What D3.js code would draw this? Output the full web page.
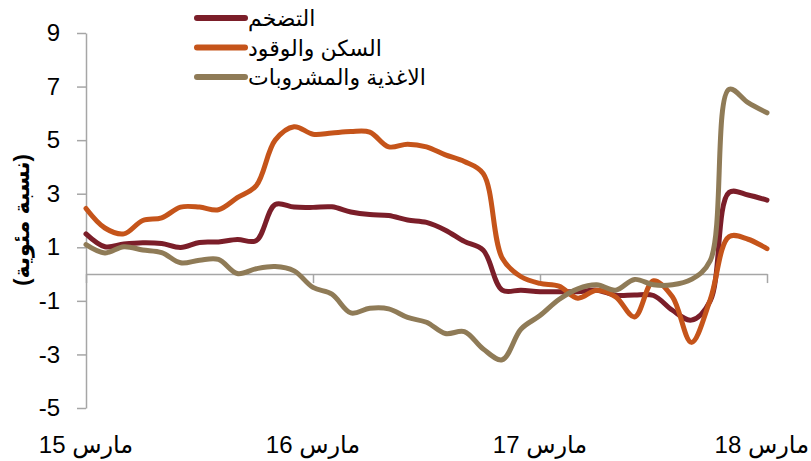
<!DOCTYPE html>
<html>
<head>
<meta charset="utf-8">
<script src="https://cdn.jsdelivr.net/npm/d3@7"></script>
<style>
  body { margin: 0; background: #fff; }
  svg { display: block; font-family: "Liberation Sans", "DejaVu Sans", sans-serif; }
  .axis path, .axis line { stroke: #a6a6a6; stroke-width: 1.5; }
  .axis text { fill: #000; font-size: 24px; }
</style>
</head>
<body>
<div id="master"></div>
<script>
// monthly index, 0 = March 2015 ... 36 = March 2018
let months = d3.range(0, 37)
let tickIdx = [0, 12, 24, 36]
let tickLabels = ["مارس 15", "مارس 16", "مارس 17", "مارس 18"]
let yTicks = [-5, -3, -1, 1, 3, 5, 7, 9]

let inflation = [1.5, 1.02, 1.12, 1.17, 1.14, 0.99, 1.18, 1.2, 1.29, 1.25, 2.6, 2.5, 2.49,
  2.51, 2.32, 2.22, 2.19, 2.02, 1.93, 1.64, 1.22, 0.89, -0.6, -0.6, -0.66,
  -0.66, -0.66, -0.6, -0.79, -0.78, -0.8, -1.35, -1.72, -1.0, 3.05, 2.95, 2.76]
let housing = [2.45, 1.72, 1.5, 2.0, 2.1, 2.5, 2.5, 2.4, 2.85, 3.3, 5.0, 5.5, 5.22,
  5.27, 5.32, 5.3, 4.75, 4.85, 4.75, 4.45, 4.2, 3.75, 0.6, -0.1, -0.35,
  -0.45, -0.9, -0.6, -0.85, -1.6, -0.25, -0.85, -2.55, -0.95, 1.4, 1.3, 0.95]
let food = [1.1, 0.79, 1.02, 0.9, 0.8, 0.42, 0.52, 0.55, 0.02, 0.2, 0.28, 0.12, -0.5,
  -0.75, -1.45, -1.28, -1.3, -1.62, -1.8, -2.22, -2.15, -2.8, -3.2, -2.05, -1.55,
  -0.95, -0.55, -0.4, -0.6, -0.2, -0.4, -0.4, -0.2, 0.5, 6.9, 6.4, 6.02]

let seriesNames = ["التضخم", "السكن والوقود", "الاغذية والمشروبات"]
let colors = ["#7b1e29", "#c5541a", "#8f7b57"]
let seriesData = [inflation, housing, food]

let w = 811, h = 461

let svg = d3.select("#master").append("svg").attr("width", w).attr("height", h)

let x = d3.scaleLinear().domain([0, 36]).range([86, 767])
let y = d3.scaleLinear().domain([-5, 9]).range([408, 33])

// y axis (plain hyphen for negatives, like the original)
svg.append("g")
  .attr("class", "axis")
  .attr("transform", "translate(86,0)")
  .call(d3.axisLeft(y).tickValues(yTicks).tickSize(9).tickSizeOuter(0).tickPadding(17).tickFormat(d => String(d)))

// zero line with month ticks
svg.append("g")
  .attr("class", "axis")
  .attr("transform", "translate(0," + y(0) + ")")
  .call(d3.axisBottom(x).tickValues(tickIdx).tickSize(9).tickSizeOuter(0).tickFormat(""))

let xl = svg.selectAll(".xlab")
  .data(tickIdx)
  .enter()
  .append("text")
  .attr("class", "xlab")
  .attr("x", d => x(d))
  .attr("y", 453)
  .attr("text-anchor", "middle")
  .style("direction", "rtl")
  .style("font-size", "24px")
  .text((d, i) => tickLabels[i])

// keep the last label inside the page
xl.each(function(d) {
  let len = this.getComputedTextLength()
  if (x(d) + len / 2 > w - 2) d3.select(this).attr("x", w - 2 - len / 2)
})

// y label
svg.append("text")
  .attr("transform", "translate(29,220) rotate(-90)")
  .attr("text-anchor", "middle")
  .style("direction", "rtl")
  .style("font-size", "22px")
  .style("font-weight", "bold")
  .text("(نسبة مئوية)")

let line = d3.line()
  .x((d, i) => x(months[i]))
  .y(d => y(d))
  .curve(d3.curveCatmullRom.alpha(0.5))

svg.append("g")
  .selectAll("path")
  .data(seriesData)
  .enter()
  .append("path")
  .attr("d", d => line(d))
  .attr("fill", "none")
  .attr("stroke", (d, i) => colors[i])
  .attr("stroke-width", 5)
  .attr("stroke-linejoin", "round")
  .attr("stroke-linecap", "round")

// legend
let legend = svg.append("g").attr("id", "legend")
  .selectAll("g")
  .data(seriesNames)
  .enter()
  .append("g")
  .attr("transform", (d, i) => "translate(197," + (18 + i * 29.5) + ")")

legend.append("line")
  .attr("x1", 0).attr("x2", 48)
  .attr("stroke", (d, i) => colors[i])
  .attr("stroke-width", 6)
  .attr("stroke-linecap", "round")

legend.append("text")
  .attr("x", 51)
  .attr("y", 8)
  .style("direction", "rtl")
  .attr("text-anchor", "end")
  .style("font-size", "22px")
  .text(d => d)
</script>
</body>
</html>
